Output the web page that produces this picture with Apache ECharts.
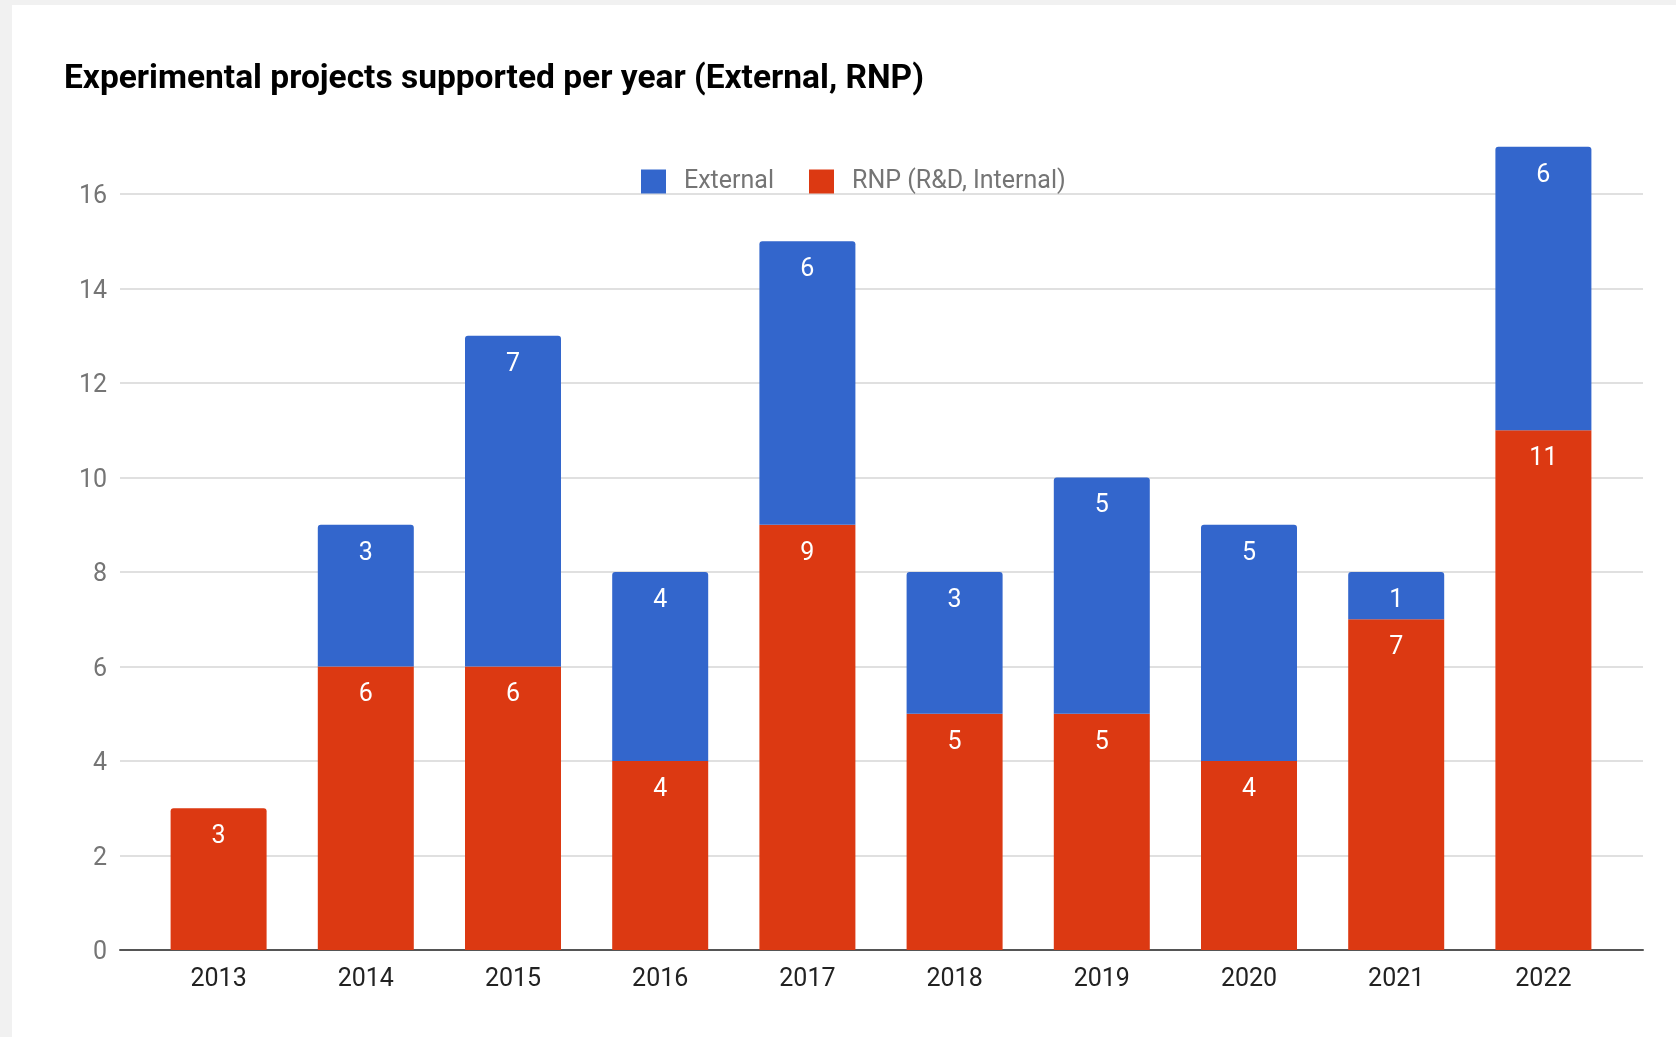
<!DOCTYPE html>
<html>
<head>
<meta charset="utf-8">
<script src="https://cdn.jsdelivr.net/npm/echarts@6/dist/echarts.min.js"></script>
<style>
  html, body { margin: 0; padding: 0; background: #f1f1f1; width: 1676px; height: 1037px; overflow: hidden; }
  #chart { position: absolute; left: 12px; top: 5px; width: 1664px; height: 1032px; background: #ffffff; }
</style>
</head>
<body>
<div id="chart"></div>
<script>
const titleText = 'Experimental projects supported per year (External, RNP)';
const years = ['2013', '2014', '2015', '2016', '2017', '2018', '2019', '2020', '2021', '2022'];
const externalValues = [0, 3, 7, 4, 6, 3, 5, 5, 1, 6];
const rnpValues = [3, 6, 6, 4, 9, 5, 5, 4, 7, 11];
const seriesNames = ['External', 'RNP (R&D, Internal)'];
const yMin = 0, yMax = 17, yStep = 2;

const chart = echarts.init(document.getElementById('chart'), null, { renderer: 'canvas' });
const FONT = 'Roboto';
const BLUE = '#3366cc', RED = '#dc3912';

const labelCfg = {
  show: true,
  position: 'insideTop',
  distance: 16,
  color: '#ffffff',
  fontSize: 25,
  fontFamily: FONT,
  formatter: p => (p.value ? String(p.value) : '')
};

const rnpData = rnpValues.map((v, i) => ({
  value: v,
  itemStyle: { borderRadius: externalValues[i] ? 0 : [3, 3, 0, 0] }
}));

const gridTop = 141.75, gridBottom = 87;

chart.setOption({
  animation: false,
  backgroundColor: '#ffffff',
  textStyle: { fontFamily: FONT },
  title: {
    text: titleText,
    left: 47,
    top: 53,
    textStyle: { fontFamily: FONT, fontWeight: 'bold', fontSize: 33.5, color: '#000000' }
  },
  legend: {
    data: seriesNames,
    left: 624,
    top: 159,
    itemWidth: 25,
    itemHeight: 24,
    itemGap: 35,
    icon: 'rect',
    textStyle: { fontFamily: FONT, fontSize: 25, color: '#757575', padding: [0, 0, 0, 13] }
  },
  grid: [
    { left: 108, right: 33, top: gridTop, bottom: gridBottom },
    { left: 133, right: 59, top: gridTop, bottom: gridBottom }
  ],
  xAxis: [
    {
      gridIndex: 0, type: 'value', min: 0, max: 1,
      axisLine: { show: true, lineStyle: { color: '#555555', width: 2 } },
      axisTick: { show: false }, axisLabel: { show: false }, splitLine: { show: false }
    },
    {
      gridIndex: 1, type: 'category', data: years,
      axisLine: { show: false }, axisTick: { show: false },
      axisLabel: { color: '#222222', fontSize: 25, fontFamily: FONT, margin: 17 }
    }
  ],
  yAxis: [
    {
      gridIndex: 0, type: 'value', min: yMin, max: yMax, interval: yStep,
      axisLine: { show: false }, axisTick: { show: false },
      axisLabel: { color: '#757575', fontSize: 25, fontFamily: FONT, margin: 13, showMaxLabel: false, verticalAlign: 'top', lineHeight: 6 },
      splitLine: { show: true, showMaxLine: false, showMinLine: false, lineStyle: { color: '#d6d6d6', width: 1.5 } }
    },
    {
      gridIndex: 1, type: 'value', min: yMin, max: yMax, interval: yStep, show: false,
      splitLine: { show: false }
    }
  ],
  series: [
    {
      name: seriesNames[1], type: 'bar', stack: 'total',
      xAxisIndex: 1, yAxisIndex: 1,
      barWidth: 96,
      itemStyle: { color: RED },
      label: labelCfg,
      data: rnpData,
      z: 2
    },
    {
      name: seriesNames[0], type: 'bar', stack: 'total',
      xAxisIndex: 1, yAxisIndex: 1,
      barWidth: 96,
      itemStyle: { color: BLUE, borderRadius: [3, 3, 0, 0] },
      label: labelCfg,
      data: externalValues,
      z: 2
    }
  ]
});
</script>
</body>
</html>
